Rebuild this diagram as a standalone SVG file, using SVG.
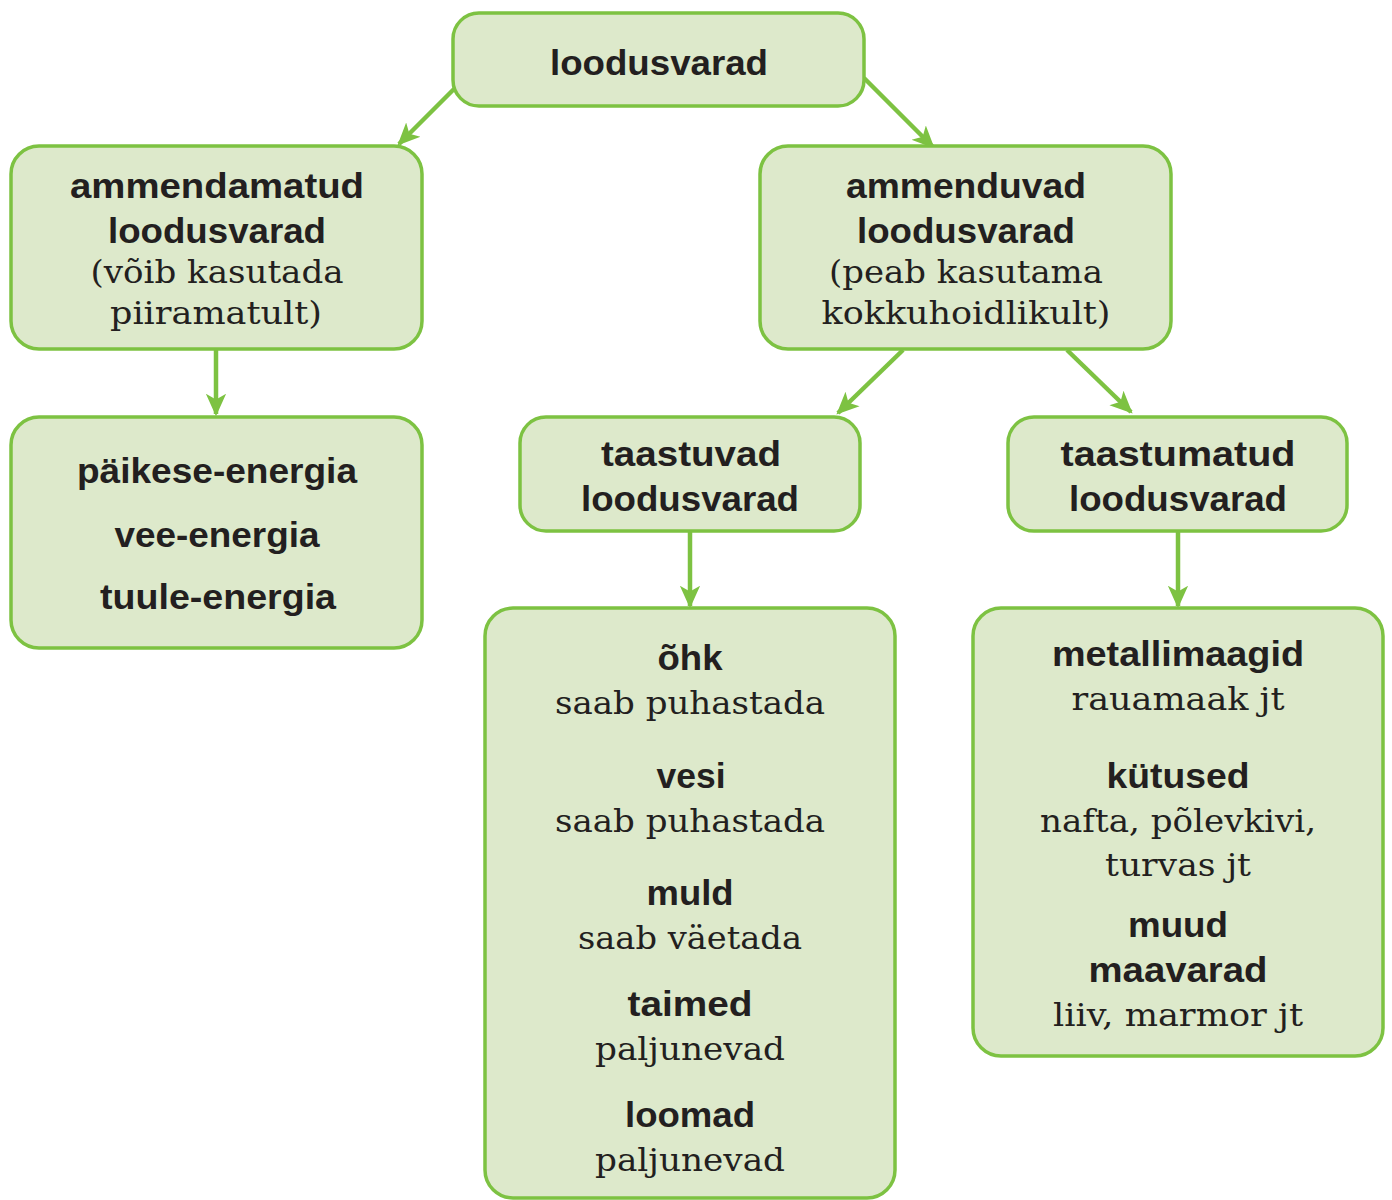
<svg xmlns="http://www.w3.org/2000/svg" width="1392" height="1200" viewBox="0 0 1392 1200">
<defs>
<style>
.box{fill:#dde9cb;stroke:#7dc242;stroke-width:3.5}
.b{font-family:"Liberation Sans",Arial,sans-serif;font-weight:bold;font-size:35px;fill:#231f20;text-anchor:middle}
.s{font-family:"DejaVu Serif","Liberation Serif",serif;font-size:32px;fill:#231f20;text-anchor:middle}
.c{stroke:#7dc242;stroke-width:4.5;fill:none;marker-end:url(#ah)}
</style>
<marker id="ah" viewBox="0 0 20 20" refX="18" refY="10" markerWidth="5" markerHeight="5" markerUnits="strokeWidth" orient="auto">
<path d="M0,1 L20,10 L0,19 L5,10 z" fill="#7dc242"/>
</marker>
</defs>
<rect width="1392" height="1200" fill="#ffffff"/>
<g id="connectors">
<line class="c" x1="455" y1="88" x2="399" y2="144"/>
<line class="c" x1="864" y1="78" x2="933" y2="147"/>
<line class="c" x1="216" y1="350" x2="216" y2="414"/>
<line class="c" x1="903" y1="350" x2="838" y2="413"/>
<line class="c" x1="1067" y1="350" x2="1131" y2="412"/>
<line class="c" x1="690" y1="532" x2="690" y2="606"/>
<line class="c" x1="1178" y1="532" x2="1178" y2="606"/>
</g>
<g id="root">
<rect class="box" x="453" y="13" width="411" height="93" rx="26"/>
<text class="b" x="659" y="75" textLength="218" lengthAdjust="spacingAndGlyphs">loodusvarad</text>
</g>
<g id="ammendamatud">
<rect class="box" x="11" y="146" width="411" height="203" rx="28"/>
<text class="b" x="217" y="198" textLength="294" lengthAdjust="spacingAndGlyphs">ammendamatud</text>
<text class="b" x="217" y="243" textLength="218" lengthAdjust="spacingAndGlyphs">loodusvarad</text>
<text class="s" x="217" y="283" textLength="253" lengthAdjust="spacingAndGlyphs">(võib kasutada</text>
<text class="s" x="216" y="324" textLength="212" lengthAdjust="spacingAndGlyphs">piiramatult)</text>
</g>
<g id="ammenduvad">
<rect class="box" x="760" y="146" width="411" height="203" rx="28"/>
<text class="b" x="966" y="198" textLength="240" lengthAdjust="spacingAndGlyphs">ammenduvad</text>
<text class="b" x="966" y="243" textLength="218" lengthAdjust="spacingAndGlyphs">loodusvarad</text>
<text class="s" x="966" y="283" textLength="274" lengthAdjust="spacingAndGlyphs">(peab kasutama</text>
<text class="s" x="966" y="324" textLength="289" lengthAdjust="spacingAndGlyphs">kokkuhoidlikult)</text>
</g>
<g id="energia">
<rect class="box" x="11" y="417" width="411" height="231" rx="28"/>
<text class="b" x="217" y="483" textLength="280" lengthAdjust="spacingAndGlyphs">päikese-energia</text>
<text class="b" x="217" y="547" textLength="205" lengthAdjust="spacingAndGlyphs">vee-energia</text>
<text class="b" x="218" y="609" textLength="236" lengthAdjust="spacingAndGlyphs">tuule-energia</text>
</g>
<g id="taastuvad">
<rect class="box" x="520" y="417" width="340" height="114" rx="26"/>
<text class="b" x="691" y="466" textLength="180" lengthAdjust="spacingAndGlyphs">taastuvad</text>
<text class="b" x="690" y="511" textLength="218" lengthAdjust="spacingAndGlyphs">loodusvarad</text>
</g>
<g id="taastumatud">
<rect class="box" x="1008" y="417" width="339" height="114" rx="26"/>
<text class="b" x="1178" y="466" textLength="235" lengthAdjust="spacingAndGlyphs">taastumatud</text>
<text class="b" x="1178" y="511" textLength="218" lengthAdjust="spacingAndGlyphs">loodusvarad</text>
</g>
<g id="taastuvad-list">
<rect class="box" x="485" y="608" width="410" height="590" rx="28"/>
<text class="b" x="690" y="670" textLength="65" lengthAdjust="spacingAndGlyphs">õhk</text>
<text class="s" x="690" y="714" textLength="270" lengthAdjust="spacingAndGlyphs">saab puhastada</text>
<text class="b" x="691" y="788" textLength="69" lengthAdjust="spacingAndGlyphs">vesi</text>
<text class="s" x="690" y="832" textLength="270" lengthAdjust="spacingAndGlyphs">saab puhastada</text>
<text class="b" x="690" y="905" textLength="87" lengthAdjust="spacingAndGlyphs">muld</text>
<text class="s" x="690" y="949" textLength="224" lengthAdjust="spacingAndGlyphs">saab väetada</text>
<text class="b" x="690" y="1016" textLength="125" lengthAdjust="spacingAndGlyphs">taimed</text>
<text class="s" x="690" y="1060" textLength="190" lengthAdjust="spacingAndGlyphs">paljunevad</text>
<text class="b" x="690" y="1127" textLength="130" lengthAdjust="spacingAndGlyphs">loomad</text>
<text class="s" x="690" y="1171" textLength="190" lengthAdjust="spacingAndGlyphs">paljunevad</text>
</g>
<g id="taastumatud-list">
<rect class="box" x="973" y="608" width="410" height="448" rx="28"/>
<text class="b" x="1178" y="666" textLength="252" lengthAdjust="spacingAndGlyphs">metallimaagid</text>
<text class="s" x="1178" y="710" textLength="213" lengthAdjust="spacingAndGlyphs">rauamaak jt</text>
<text class="b" x="1178" y="788" textLength="143" lengthAdjust="spacingAndGlyphs">kütused</text>
<text class="s" x="1178" y="832" textLength="276" lengthAdjust="spacingAndGlyphs">nafta, põlevkivi,</text>
<text class="s" x="1178" y="876" textLength="146" lengthAdjust="spacingAndGlyphs">turvas jt</text>
<text class="b" x="1178" y="937" textLength="100" lengthAdjust="spacingAndGlyphs">muud</text>
<text class="b" x="1178" y="982" textLength="179" lengthAdjust="spacingAndGlyphs">maavarad</text>
<text class="s" x="1178" y="1026" textLength="250" lengthAdjust="spacingAndGlyphs">liiv, marmor jt</text>
</g>
</svg>
